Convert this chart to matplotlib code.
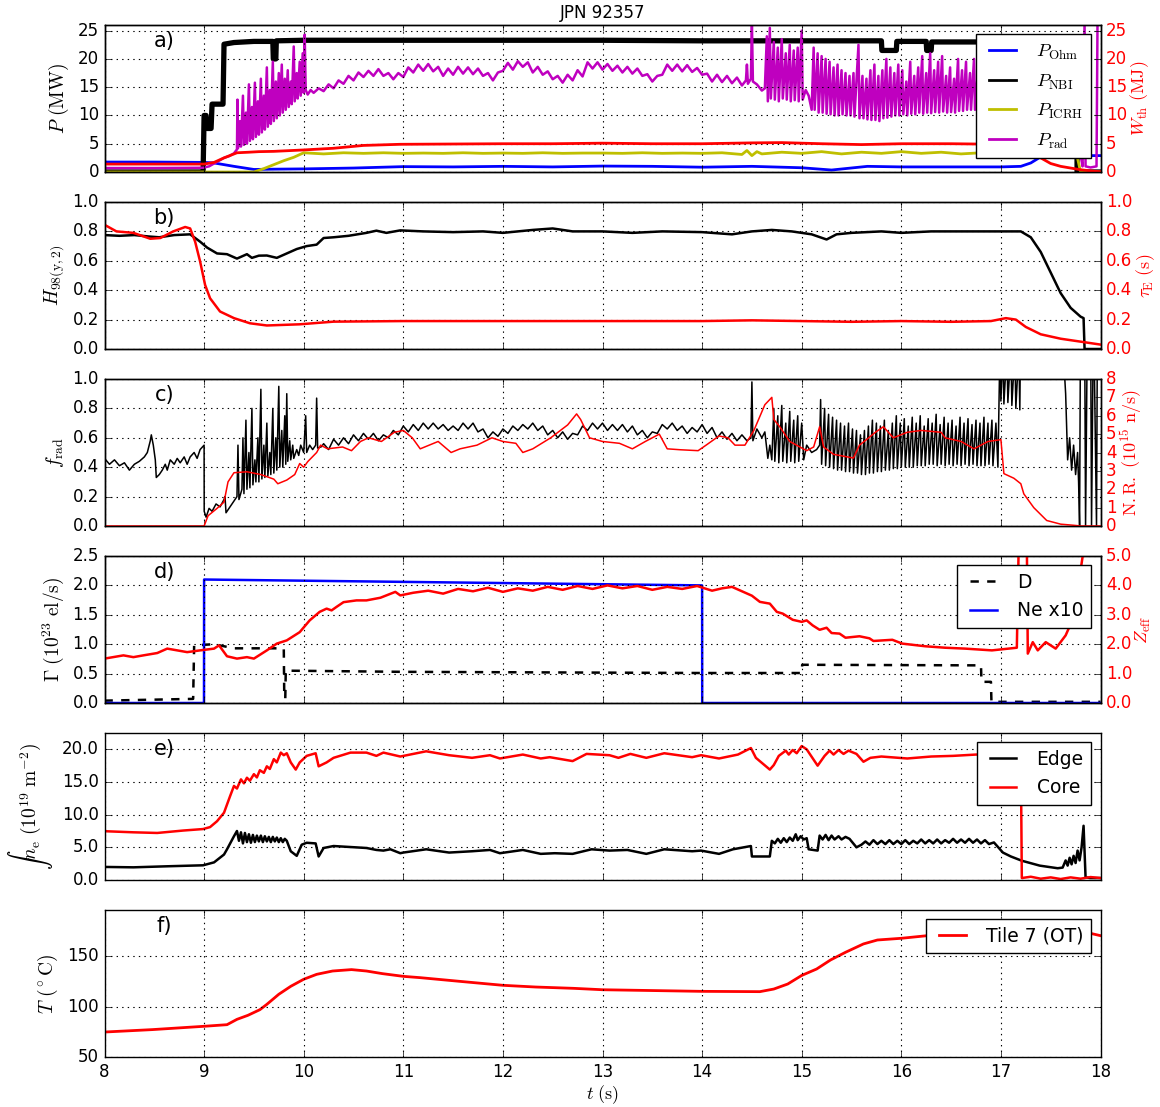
import numpy as np
import matplotlib
matplotlib.use('Agg')
import matplotlib.pyplot as plt
from matplotlib.lines import Line2D

# ---- a) powers (MW) and stored energy (MJ) ----
p_ohm = [(8.0, 1.76), (8.5, 1.76), (9.0, 1.7), (9.1, 1.6), (9.3, 1.0), (9.5, 0.45),
         (9.7, 0.5), (10.0, 0.55), (10.5, 0.7), (11.0, 0.95), (11.5, 0.9), (12.0, 1.0),
         (12.5, 0.9), (13.0, 1.05), (13.5, 1.0), (14.0, 0.85), (14.5, 1.0), (15.0, 0.75),
         (15.3, 0.35), (15.66, 1.0), (16.0, 0.9), (16.5, 0.9), (17.0, 0.9), (17.2, 1.0),
         (17.3, 1.6), (17.42, 2.9), (18.0, 2.9)]

p_nbi = [(8.0, 0), (8.99, 0), (9.0, 10), (9.02, 10), (9.03, 7.7), (9.07, 7.7), (9.08, 12),
         (9.19, 12), (9.2, 22.6), (9.3, 22.9), (9.5, 23.1), (9.69, 23.1), (9.695, 20),
         (9.72, 20), (9.725, 23.2), (10.0, 23.3), (11.0, 23.3), (12.0, 23.3), (13.0, 23.3),
         (14.0, 23.2), (15.0, 23.2), (15.8, 23.2), (15.805, 21.5), (15.95, 21.5),
         (15.955, 23.1), (16.25, 23.1), (16.255, 21.5), (16.3, 21.5), (16.305, 23.0),
         (17.0, 23.0), (17.76, 23.0), (17.765, 0), (18.0, 0)]

p_icrh = [(8.0, 0), (9.5, 0), (9.6, 0.6), (9.7, 1.3), (9.8, 2.0), (9.9, 2.6), (10.0, 3.4),
          (10.2, 3.2), (10.4, 3.4), (10.6, 3.3), (10.8, 3.4), (11.0, 3.3), (11.2, 3.35),
          (11.4, 3.3), (11.6, 3.4), (11.8, 3.3), (12.0, 3.35), (12.2, 3.3), (12.4, 3.4),
          (12.6, 3.3), (12.8, 3.35), (13.0, 3.35), (13.2, 3.3), (13.4, 3.4), (13.6, 3.3),
          (13.8, 3.35), (14.0, 3.3), (14.2, 3.4), (14.4, 3.1), (14.45, 3.8), (14.5, 2.9),
          (14.55, 3.6), (14.6, 3.2), (14.8, 3.5), (15.0, 3.3), (15.2, 3.6), (15.4, 3.2),
          (15.6, 3.5), (15.8, 3.3), (16.0, 3.6), (16.2, 3.3), (16.4, 3.5), (16.6, 3.2),
          (16.8, 3.4), (17.0, 3.3), (17.2, 3.2), (17.4, 3.3), (17.6, 3.1), (17.76, 3.2),
          (17.8, 0), (18.0, 0)]

p_rad = [(8.0, 0.7), (8.5, 0.7), (8.99, 0.75), (9.05, 1.0), (9.1, 1.5), (9.15, 2.0),
         (9.2, 2.5), (9.25, 2.8), (9.3, 3.3),
         (9.33, 4.0), (9.335, 12.8), (9.34, 4.2), (9.36, 9.0), (9.37, 4.5), (9.39, 13.5),
         (9.40, 4.8), (9.42, 10.5), (9.43, 5.0), (9.45, 15.5), (9.46, 5.5), (9.48, 11.5),
         (9.49, 5.8), (9.51, 15.8), (9.52, 6.2), (9.54, 12.5), (9.55, 6.6), (9.57, 16.5),
         (9.58, 7.0), (9.60, 13.5), (9.61, 7.5), (9.63, 18.5), (9.64, 8.0), (9.66, 14.5),
         (9.67, 8.5), (9.69, 19.5), (9.70, 9.0), (9.72, 16.0), (9.73, 9.5), (9.75, 17.5),
         (9.76, 10.0), (9.78, 19.0), (9.79, 10.5), (9.81, 16.5), (9.82, 11.0), (9.84, 18.0),
         (9.85, 11.5), (9.87, 16.0), (9.88, 12.0), (9.90, 22.2), (9.91, 12.5), (9.93, 17.5),
         (9.94, 13.0), (9.96, 19.5), (9.97, 13.5), (9.99, 21.0), (10.0, 14.0), (10.01, 24.3),
         (10.02, 14.5), (10.04, 13.7), (10.07, 14.5), (10.1, 14.0),
         (10.15, 14.8), (10.2, 14.3), (10.25, 15.5), (10.3, 14.8), (10.35, 16.2), (10.4, 15.6),
         (10.45, 17.0), (10.5, 16.2), (10.55, 17.6), (10.6, 16.8), (10.65, 17.9), (10.7, 17.0),
         (10.75, 18.2), (10.8, 17.0), (10.85, 17.5), (10.9, 16.4), (10.95, 17.5), (11.0, 16.8),
         (11.05, 18.5), (11.1, 17.6), (11.15, 19.0), (11.2, 17.9), (11.25, 19.1), (11.3, 17.8),
         (11.35, 18.6), (11.4, 17.0), (11.45, 18.3), (11.5, 17.2), (11.55, 18.6), (11.6, 17.4),
         (11.65, 18.5), (11.7, 17.3), (11.75, 18.3), (11.8, 17.0), (11.85, 17.5), (11.9, 16.2),
         (11.95, 17.6), (12.0, 17.9), (12.05, 19.3), (12.1, 18.1), (12.15, 19.6), (12.2, 18.6),
         (12.25, 19.4), (12.3, 17.6), (12.35, 18.6), (12.4, 17.2), (12.45, 17.8), (12.5, 16.4),
         (12.55, 17.0), (12.6, 15.8), (12.65, 17.2), (12.7, 16.2), (12.75, 18.0), (12.8, 16.9),
         (12.85, 19.4), (12.9, 18.3), (12.95, 19.4), (13.0, 18.1), (13.05, 19.1), (13.1, 17.9),
         (13.15, 18.8), (13.2, 17.6), (13.25, 18.6), (13.3, 17.4), (13.35, 18.3), (13.4, 17.0),
         (13.45, 17.3), (13.5, 16.0), (13.55, 17.0), (13.6, 17.2), (13.65, 19.0), (13.7, 17.9),
         (13.75, 19.0), (13.8, 17.8), (13.85, 18.9), (13.9, 17.7), (13.95, 18.4), (14.0, 17.2),
         (14.05, 17.4), (14.1, 16.0), (14.15, 17.2), (14.2, 15.9), (14.25, 17.0), (14.3, 15.7),
         (14.35, 16.7), (14.4, 15.3), (14.44, 16.2),
         (14.45, 19.0), (14.46, 15.6), (14.49, 16.5), (14.5, 26.5), (14.51, 16.0), (14.55, 15.5),
         (14.6, 14.4), (14.63, 14.8), (14.65, 24.0), (14.66, 12.5), (14.68, 25.5), (14.69, 13.0),
         (14.72, 23.0), (14.73, 12.8), (14.76, 22.0), (14.77, 12.5), (14.80, 23.5), (14.81, 13.0),
         (14.84, 21.0), (14.85, 12.8), (14.88, 22.5), (14.89, 12.5), (14.92, 21.5), (14.93, 12.7),
         (14.96, 22.0), (14.97, 12.5), (15.0, 25.0), (15.01, 12.8), (15.04, 14.5), (15.07, 13.5),
         (15.1, 11.0), (15.12, 22.0), (15.13, 11.0), (15.16, 21.0), (15.17, 10.5), (15.20, 20.5),
         (15.21, 10.5), (15.24, 20.0), (15.25, 10.3), (15.28, 19.5), (15.29, 10.2), (15.32, 18.5),
         (15.33, 10.0), (15.36, 19.0), (15.37, 10.0), (15.40, 18.0), (15.41, 10.2), (15.44, 17.5),
         (15.45, 10.0), (15.48, 17.0), (15.49, 10.0), (15.52, 17.5), (15.53, 9.8), (15.57, 22.5),
         (15.58, 9.5), (15.61, 17.0), (15.62, 9.5), (15.65, 16.5), (15.66, 9.3), (15.69, 18.0),
         (15.70, 9.2), (15.73, 19.0), (15.74, 9.2), (15.77, 17.0), (15.78, 9.0), (15.81, 18.0),
         (15.82, 9.5), (15.85, 20.0), (15.86, 9.6), (15.89, 18.5), (15.90, 9.8), (15.93, 17.5),
         (15.94, 10.0), (15.97, 19.0), (15.98, 10.0), (16.01, 18.0), (16.02, 10.2), (16.05, 16.0),
         (16.06, 10.0), (16.09, 19.5), (16.10, 10.3), (16.13, 17.0), (16.14, 10.2), (16.17, 18.5),
         (16.18, 10.5), (16.21, 20.5), (16.22, 10.3), (16.25, 17.5), (16.26, 10.5), (16.29, 21.0),
         (16.30, 10.4), (16.33, 18.0), (16.34, 10.6), (16.37, 19.5), (16.38, 10.5), (16.41, 20.5),
         (16.42, 10.7), (16.45, 17.0), (16.46, 10.5), (16.49, 18.5), (16.50, 10.6), (16.53, 16.5),
         (16.54, 10.5), (16.57, 20.0), (16.58, 10.8), (16.61, 18.0), (16.62, 10.8), (16.65, 19.5),
         (16.66, 11.0), (16.69, 17.5), (16.70, 11.0), (16.73, 20.0), (16.74, 11.0), (16.77, 18.0),
         (16.78, 11.2), (16.82, 19.0), (16.83, 11.0), (16.87, 17.5), (16.88, 11.2), (16.92, 19.5),
         (16.93, 11.0), (16.97, 18.0), (16.98, 11.5), (17.02, 19.0), (17.03, 11.2), (17.07, 17.5),
         (17.08, 11.5), (17.12, 19.0), (17.13, 11.5), (17.2, 12.0), (17.3, 12.5), (17.5, 12.0),
         (17.7, 11.5), (17.78, 10.0), (17.8, 3.0), (17.82, 1.0), (17.84, 26.5), (17.85, 1.0),
         (17.9, 0.8), (17.96, 1.0), (17.97, 26.5), (18.0, 26.5)]

w_th = [(8.0, 1.4), (9.0, 1.4), (9.1, 1.7), (9.2, 2.5), (9.33, 3.4), (9.45, 3.5), (9.55, 3.6),
        (9.7, 3.65), (10.0, 3.9), (10.3, 4.2), (10.6, 4.7), (10.97, 4.9), (11.5, 4.95),
        (12.0, 5.0), (12.5, 5.0), (13.0, 5.1), (13.5, 5.0), (14.0, 5.0), (14.5, 5.15),
        (14.8, 5.2), (15.2, 5.0), (15.6, 4.85), (16.0, 5.0), (16.5, 5.0), (17.0, 4.9),
        (17.2, 4.8), (17.3, 4.0), (17.4, 2.5), (17.5, 1.5), (17.6, 1.0), (17.7, 0.7),
        (17.8, 0.4), (17.9, 0.2), (18.0, 0.05)]

# ---- b) confinement ----
h98 = [(8.0, 0.775), (8.15, 0.77), (8.3, 0.775), (8.45, 0.765), (8.55, 0.76), (8.7, 0.775),
       (8.86, 0.78), (8.96, 0.73), (9.03, 0.69), (9.13, 0.65), (9.23, 0.645), (9.33, 0.615),
       (9.43, 0.645), (9.48, 0.62), (9.55, 0.635), (9.63, 0.636), (9.73, 0.62), (9.83, 0.65),
       (9.93, 0.68), (10.03, 0.70), (10.13, 0.71), (10.2, 0.755), (10.3, 0.76), (10.45, 0.77),
       (10.63, 0.79), (10.73, 0.805), (10.83, 0.79), (10.97, 0.807), (11.2, 0.80), (11.5, 0.795),
       (11.8, 0.80), (12.0, 0.79), (12.3, 0.81), (12.5, 0.82), (12.7, 0.80), (13.0, 0.80),
       (13.3, 0.79), (13.6, 0.80), (14.0, 0.795), (14.3, 0.78), (14.5, 0.80), (14.7, 0.81),
       (14.9, 0.80), (15.1, 0.78), (15.25, 0.745), (15.35, 0.78), (15.5, 0.79), (15.8, 0.80),
       (16.0, 0.79), (16.3, 0.80), (16.6, 0.80), (17.0, 0.80), (17.2, 0.80), (17.3, 0.76),
       (17.4, 0.66), (17.5, 0.52), (17.6, 0.38), (17.7, 0.28), (17.8, 0.22), (17.83, 0.21),
       (17.84, 0.0), (18.0, 0.0)]

tau_e = [(8.0, 0.845), (8.12, 0.80), (8.29, 0.79), (8.46, 0.75), (8.56, 0.755), (8.69, 0.80),
         (8.81, 0.83), (8.86, 0.82), (8.91, 0.73), (8.96, 0.595), (9.01, 0.436), (9.06, 0.345),
         (9.16, 0.255), (9.3, 0.21), (9.46, 0.175), (9.63, 0.16), (9.96, 0.168), (10.3, 0.186),
         (11.0, 0.19), (12.0, 0.19), (13.0, 0.19), (14.0, 0.19), (14.5, 0.195), (15.0, 0.19),
         (15.5, 0.185), (16.0, 0.19), (16.5, 0.185), (16.9, 0.19), (17.05, 0.21), (17.15, 0.2),
         (17.25, 0.15), (17.4, 0.1), (17.6, 0.07), (17.8, 0.05), (18.0, 0.03)]

# ---- c) radiated fraction and neutron rate ----
f_rad = [(8.0, 0.46), (8.05, 0.42), (8.1, 0.45), (8.15, 0.41), (8.2, 0.43), (8.25, 0.38),
         (8.3, 0.42), (8.35, 0.44), (8.4, 0.47), (8.43, 0.5), (8.46, 0.58), (8.47, 0.62),
         (8.49, 0.55), (8.51, 0.45), (8.52, 0.33), (8.55, 0.35), (8.58, 0.38), (8.61, 0.42),
         (8.63, 0.38), (8.66, 0.45), (8.7, 0.42), (8.73, 0.46), (8.76, 0.43), (8.8, 0.47),
         (8.83, 0.42), (8.86, 0.47), (8.9, 0.5), (8.93, 0.46), (8.96, 0.52), (9.0, 0.55),
         (9.001, 0.1), (9.02, 0.06), (9.05, 0.12), (9.08, 0.1), (9.12, 0.15), (9.16, 0.13),
         (9.2, 0.18), (9.21, 0.2), (9.22, 0.09), (9.25, 0.12), (9.28, 0.15), (9.31, 0.18),
         (9.33, 0.2), (9.34, 0.55), (9.35, 0.18), (9.38, 0.25), (9.39, 0.6), (9.4, 0.22),
         (9.42, 0.72), (9.43, 0.25), (9.45, 0.5), (9.46, 0.26), (9.48, 0.8), (9.49, 0.28),
         (9.51, 0.45), (9.52, 0.3), (9.54, 0.6), (9.55, 0.3), (9.57, 0.93), (9.58, 0.32),
         (9.6, 0.55), (9.61, 0.33), (9.63, 0.7), (9.64, 0.34), (9.66, 0.5), (9.67, 0.35),
         (9.69, 0.8), (9.7, 0.36), (9.72, 0.6), (9.73, 0.38), (9.75, 0.95), (9.76, 0.4),
         (9.78, 0.65), (9.79, 0.4), (9.81, 0.75), (9.82, 0.42), (9.83, 0.9), (9.84, 0.44),
         (9.86, 0.58), (9.87, 0.45), (9.89, 0.55), (9.9, 0.46), (9.93, 0.52), (9.95, 0.48),
         (9.97, 0.55), (10.0, 0.5), (10.02, 0.75), (10.03, 0.5), (10.06, 0.55), (10.09, 0.52),
         (10.12, 0.55), (10.13, 0.87), (10.14, 0.53), (10.18, 0.54),
         (10.2, 0.56), (10.25, 0.52), (10.3, 0.59), (10.35, 0.55), (10.4, 0.6), (10.45, 0.56),
         (10.5, 0.62), (10.55, 0.58), (10.6, 0.63), (10.65, 0.59), (10.7, 0.63), (10.75, 0.58),
         (10.8, 0.62), (10.85, 0.6), (10.9, 0.65), (10.95, 0.62), (11.0, 0.68), (11.05, 0.64),
         (11.1, 0.69), (11.15, 0.65), (11.2, 0.7), (11.25, 0.66), (11.3, 0.7), (11.35, 0.66),
         (11.4, 0.69), (11.45, 0.65), (11.5, 0.68), (11.55, 0.65), (11.6, 0.7), (11.65, 0.66),
         (11.7, 0.7), (11.75, 0.64), (11.8, 0.66), (11.85, 0.6), (11.9, 0.64), (11.95, 0.61),
         (12.0, 0.66), (12.05, 0.63), (12.1, 0.68), (12.15, 0.65), (12.2, 0.69), (12.25, 0.66),
         (12.3, 0.7), (12.35, 0.65), (12.4, 0.68), (12.45, 0.62), (12.5, 0.65), (12.55, 0.6),
         (12.6, 0.64), (12.65, 0.59), (12.7, 0.63), (12.75, 0.62), (12.8, 0.68), (12.85, 0.65),
         (12.9, 0.7), (12.95, 0.66), (13.0, 0.7), (13.05, 0.65), (13.1, 0.69), (13.15, 0.65),
         (13.2, 0.69), (13.25, 0.64), (13.3, 0.68), (13.35, 0.62), (13.4, 0.65), (13.45, 0.6),
         (13.5, 0.64), (13.55, 0.63), (13.6, 0.69), (13.65, 0.66), (13.7, 0.7), (13.75, 0.65),
         (13.8, 0.68), (13.85, 0.63), (13.9, 0.67), (13.95, 0.64), (14.0, 0.69), (14.05, 0.63),
         (14.1, 0.67), (14.15, 0.6), (14.2, 0.64), (14.25, 0.59), (14.3, 0.63), (14.35, 0.58),
         (14.4, 0.62), (14.45, 0.58), (14.49, 0.6), (14.5, 0.98), (14.51, 0.58), (14.55, 0.66),
         (14.6, 0.6), (14.63, 0.64), (14.66, 0.46), (14.68, 0.55),
         (14.7, 0.45), (14.72, 0.8), (14.73, 0.44), (14.76, 0.75), (14.77, 0.43), (14.8, 0.82),
         (14.81, 0.44), (14.84, 0.7), (14.85, 0.43), (14.88, 0.78), (14.89, 0.44), (14.92, 0.72),
         (14.93, 0.43), (14.96, 0.75), (14.97, 0.44), (15.0, 0.7), (15.02, 0.45), (15.05, 0.55),
         (15.1, 0.5), (15.15, 0.52), (15.18, 0.55), (15.19, 0.86), (15.2, 0.42), (15.23, 0.8),
         (15.24, 0.41), (15.27, 0.76), (15.28, 0.4), (15.31, 0.74), (15.32, 0.39), (15.35, 0.72),
         (15.36, 0.38), (15.39, 0.7), (15.4, 0.38), (15.43, 0.68), (15.44, 0.37), (15.47, 0.7),
         (15.48, 0.37), (15.51, 0.66), (15.52, 0.36), (15.55, 0.65), (15.56, 0.36), (15.59, 0.62),
         (15.6, 0.35), (15.63, 0.65), (15.64, 0.35), (15.67, 0.68), (15.68, 0.36), (15.71, 0.72),
         (15.72, 0.36), (15.75, 0.7), (15.76, 0.37), (15.79, 0.68), (15.8, 0.37), (15.83, 0.72),
         (15.84, 0.38), (15.87, 0.65), (15.88, 0.38), (15.91, 0.7), (15.92, 0.39), (15.95, 0.75),
         (15.96, 0.39), (15.99, 0.7), (16.0, 0.4), (16.03, 0.73), (16.04, 0.4), (16.07, 0.68),
         (16.08, 0.4), (16.11, 0.74), (16.12, 0.4), (16.15, 0.7), (16.16, 0.41), (16.19, 0.75),
         (16.2, 0.41), (16.23, 0.68), (16.24, 0.41), (16.27, 0.73), (16.28, 0.42), (16.31, 0.7),
         (16.32, 0.42), (16.35, 0.76), (16.36, 0.41), (16.39, 0.69), (16.4, 0.42), (16.43, 0.74),
         (16.44, 0.41), (16.47, 0.7), (16.48, 0.42), (16.51, 0.72), (16.52, 0.41), (16.55, 0.68),
         (16.56, 0.42), (16.59, 0.74), (16.6, 0.41), (16.63, 0.7), (16.64, 0.42), (16.67, 0.73),
         (16.68, 0.41), (16.71, 0.69), (16.72, 0.42), (16.75, 0.72), (16.76, 0.41), (16.79, 0.7),
         (16.8, 0.41), (16.83, 0.74), (16.84, 0.41), (16.87, 0.7), (16.88, 0.42), (16.91, 0.72),
         (16.92, 0.41), (16.95, 0.7), (16.97, 0.4), (16.99, 1.2), (17.0, 0.85), (17.02, 1.2),
         (17.03, 0.83), (17.06, 1.2), (17.07, 0.84), (17.1, 1.2), (17.11, 0.82), (17.14, 1.2),
         (17.15, 0.8), (17.18, 1.2), (17.19, 0.79), (17.2, 1.5), (17.6, 1.5), (17.65, 0.9),
         (17.67, 0.45), (17.69, 0.6), (17.71, 0.38), (17.73, 0.55), (17.75, 0.35), (17.77, 0.5),
         (17.78, 0.3), (17.79, 0.0), (17.8, 1.5), (17.84, 1.5), (17.85, 0.0), (17.87, 1.5),
         (17.9, 1.5), (17.91, 0.0), (17.93, 1.5), (17.96, 0.0), (17.97, 1.5), (18.0, 1.5)]

neutron_rate = [(8.0, 0), (9.0, 0), (9.04, 0.56), (9.13, 0.96), (9.2, 1.3), (9.24, 2.4),
                (9.3, 2.9), (9.43, 2.95), (9.57, 2.8), (9.7, 2.55), (9.74, 2.3), (9.83, 2.5),
                (9.91, 2.8), (9.96, 3.4), (10.0, 3.2), (10.04, 3.5), (10.13, 4.0), (10.17, 4.4),
                (10.24, 4.2), (10.39, 4.3), (10.48, 4.1), (10.57, 4.6), (10.65, 4.8), (10.78, 4.6),
                (10.91, 5.1), (11.0, 5.2), (11.09, 4.8), (11.17, 4.2), (11.26, 4.4), (11.35, 4.6),
                (11.48, 4.0), (11.57, 4.2), (11.74, 4.4), (11.89, 4.8), (12.0, 4.6), (12.13, 4.5),
                (12.2, 4.0), (12.3, 4.2), (12.48, 4.8), (12.65, 5.5), (12.74, 6.1), (12.78, 5.8),
                (12.87, 4.8), (13.0, 4.6), (13.17, 4.5), (13.3, 4.2), (13.43, 4.6), (13.57, 5.0),
                (13.65, 4.2), (13.78, 4.15), (13.96, 4.1), (14.04, 4.4), (14.17, 4.9), (14.26, 4.8),
                (14.33, 4.4), (14.43, 4.4), (14.52, 5.2), (14.63, 6.6), (14.7, 7.0), (14.72, 5.8),
                (14.78, 5.4), (14.88, 4.6), (15.05, 4.1), (15.12, 4.3), (15.18, 5.4), (15.22, 4.3),
                (15.32, 3.9), (15.52, 3.7), (15.58, 4.4), (15.65, 4.7), (15.74, 5.1), (15.82, 5.4),
                (15.92, 4.8), (16.06, 5.1), (16.2, 5.2), (16.4, 5.1), (16.44, 4.8), (16.6, 4.6),
                (16.73, 4.2), (16.87, 4.6), (17.0, 4.7), (17.03, 2.85), (17.13, 2.6), (17.2, 2.3),
                (17.23, 1.75), (17.33, 1.0), (17.46, 0.3), (17.6, 0.1), (17.73, 0.04), (17.8, 0.0),
                (18.0, 0.0)]

# ---- d) gas fuelling (1e23 el/s) and Zeff ----
gas_d = [(8.0, 0.04), (8.89, 0.07), (8.9, 0.98), (9.1, 1.0), (9.3, 0.93), (9.8, 0.93),
         (9.805, 0.08), (9.815, 0.08), (9.82, 0.55), (11.0, 0.53), (14.0, 0.51), (15.0, 0.51),
         (15.005, 0.65), (16.8, 0.64), (16.805, 0.36), (16.9, 0.36), (16.905, 0.02), (18.0, 0.02)]

gas_ne = [(8.0, 0.0), (8.999, 0.0), (9.0, 2.1), (14.0, 2.0), (14.001, 0.0), (18.0, 0.0)]

z_eff = [(8.0, 1.51), (8.19, 1.62), (8.29, 1.56), (8.39, 1.62), (8.53, 1.70), (8.63, 1.85),
         (8.73, 1.79), (8.83, 1.73), (8.96, 1.79), (9.1, 1.85), (9.15, 1.96), (9.23, 1.59),
         (9.33, 1.51), (9.43, 1.56), (9.5, 1.51), (9.63, 1.79), (9.73, 2.02), (9.83, 2.13),
         (9.96, 2.41), (10.06, 2.81), (10.16, 3.10), (10.23, 3.21), (10.28, 3.15), (10.33, 3.27),
         (10.4, 3.43), (10.53, 3.49), (10.63, 3.49), (10.77, 3.58), (10.92, 3.78), (10.97, 3.66),
         (11.1, 3.75), (11.25, 3.82), (11.4, 3.72), (11.55, 3.88), (11.7, 3.80), (11.85, 3.92),
         (12.0, 3.78), (12.15, 3.90), (12.3, 3.82), (12.45, 3.95), (12.6, 3.85), (12.75, 3.98),
         (12.9, 3.88), (13.05, 4.0), (13.2, 3.90), (13.35, 3.98), (13.5, 3.85), (13.65, 3.95),
         (13.8, 3.88), (13.95, 3.98), (14.1, 3.82), (14.2, 3.9), (14.3, 3.95), (14.4, 3.8),
         (14.5, 3.65), (14.58, 3.44), (14.68, 3.38), (14.75, 3.1), (14.81, 3.04), (14.91, 2.83),
         (15.0, 2.76), (15.05, 2.81), (15.11, 2.64), (15.18, 2.49), (15.25, 2.56), (15.3, 2.38),
         (15.38, 2.36), (15.44, 2.22), (15.58, 2.27), (15.68, 2.2), (15.72, 2.11), (15.91, 2.15),
         (16.01, 2.02), (16.24, 1.93), (16.44, 1.88), (16.64, 1.85), (16.91, 1.79), (17.16, 1.88),
         (17.18, 5.6), (17.19, 5.6), (17.26, 5.6), (17.27, 1.68), (17.32, 2.07), (17.37, 1.79),
         (17.45, 2.07), (17.55, 1.85), (17.65, 2.3), (17.68, 2.53), (17.77, 3.83), (17.82, 4.97),
         (17.85, 5.6), (18.0, 5.6)]

# ---- e) line integrated density (1e19 m^-2) ----
ne_core = [(8.0, 7.47), (8.29, 7.3), (8.53, 7.2), (8.79, 7.57), (8.99, 7.8), (9.06, 8.1),
           (9.13, 9.0), (9.2, 10.3), (9.26, 12.8), (9.3, 14.4), (9.33, 14.0), (9.37, 15.4),
           (9.4, 14.8), (9.43, 15.65), (9.46, 15.2), (9.5, 16.2), (9.53, 15.7), (9.56, 16.8),
           (9.6, 16.4), (9.63, 17.4), (9.66, 17.0), (9.7, 18.5), (9.73, 18.0), (9.77, 19.5),
           (9.8, 19.1), (9.83, 19.4), (9.87, 18.0), (9.92, 16.9), (9.96, 18.0), (10.03, 19.0),
           (10.12, 19.4), (10.15, 17.4), (10.23, 18.0), (10.3, 18.7), (10.47, 19.5), (10.63, 19.5),
           (10.73, 19.0), (10.8, 19.5), (10.97, 18.9), (11.23, 19.7), (11.46, 19.1), (11.69, 18.7),
           (11.87, 19.1), (11.97, 18.6), (12.2, 19.2), (12.38, 18.6), (12.47, 18.8), (12.7, 18.2),
           (12.84, 19.3), (13.07, 19.1), (13.16, 18.7), (13.28, 19.3), (13.44, 18.7), (13.62, 19.4),
           (13.9, 18.8), (13.99, 19.1), (14.17, 18.6), (14.36, 19.2), (14.49, 20.2), (14.54, 18.7),
           (14.68, 16.9), (14.72, 17.6), (14.77, 19.0), (14.84, 19.8), (14.87, 19.2), (14.91, 19.9),
           (14.95, 19.4), (15.0, 20.5), (15.05, 20.0), (15.16, 17.5), (15.23, 19.0), (15.28, 19.8),
           (15.32, 19.2), (15.37, 19.9), (15.42, 19.3), (15.47, 19.8), (15.55, 19.3), (15.62, 18.1),
           (15.69, 18.7), (15.8, 18.9), (16.06, 18.6), (16.3, 18.9), (16.52, 19.0), (16.75, 19.2),
           (17.0, 19.2), (17.2, 19.0), (17.21, 0.3), (17.3, 0.5), (17.4, 0.2), (17.5, 0.4),
           (17.6, 0.15), (17.7, 0.4), (17.8, 0.2), (17.9, 0.45), (18.0, 0.3)]

ne_edge = [(8.0, 2.0), (8.29, 1.94), (8.63, 2.1), (8.99, 2.25), (9.1, 2.7), (9.2, 3.9),
           (9.23, 4.7), (9.3, 6.7), (9.33, 7.5), (9.35, 6.0), (9.37, 7.3), (9.39, 5.6),
           (9.41, 7.2), (9.43, 5.8), (9.45, 7.0), (9.47, 5.7), (9.49, 6.9), (9.51, 5.8),
           (9.53, 6.8), (9.55, 5.9), (9.57, 6.8), (9.59, 5.8), (9.61, 6.7), (9.63, 5.9),
           (9.65, 6.6), (9.67, 5.8), (9.69, 6.6), (9.71, 5.9), (9.73, 6.5), (9.75, 5.8),
           (9.77, 6.4), (9.79, 5.8), (9.81, 6.3), (9.83, 6.0), (9.87, 4.4), (9.93, 3.7),
           (9.98, 5.4), (10.03, 5.7), (10.12, 5.6), (10.15, 3.6), (10.2, 4.9), (10.3, 5.2),
           (10.63, 4.9), (10.73, 4.6), (10.8, 4.5), (10.87, 4.7), (10.97, 4.1), (11.0, 4.2),
           (11.23, 4.7), (11.46, 4.2), (11.69, 4.4), (11.87, 4.6), (11.97, 4.1), (12.2, 4.6),
           (12.38, 4.0), (12.52, 4.1), (12.7, 4.0), (12.89, 4.7), (13.07, 4.5), (13.25, 4.6),
           (13.44, 4.0), (13.62, 4.7), (13.9, 4.4), (13.99, 4.5), (14.17, 4.0), (14.31, 4.7),
           (14.45, 5.1), (14.49, 5.2), (14.5, 3.6), (14.68, 3.6), (14.7, 6.0), (14.73, 5.6),
           (14.76, 6.3), (14.79, 5.7), (14.82, 6.4), (14.85, 5.8), (14.88, 6.5), (14.91, 6.0),
           (14.94, 7.0), (14.96, 6.1), (14.99, 6.7), (15.02, 6.2), (15.05, 6.4), (15.07, 4.7),
           (15.16, 4.5), (15.18, 6.8), (15.21, 6.2), (15.24, 6.9), (15.27, 6.1), (15.3, 6.8),
           (15.33, 6.2), (15.37, 6.7), (15.4, 6.2), (15.44, 6.6), (15.48, 6.3), (15.55, 5.0),
           (15.6, 5.4), (15.64, 5.9), (15.68, 5.4), (15.72, 6.1), (15.76, 5.5), (15.8, 6.0),
           (15.84, 5.5), (15.88, 6.1), (15.92, 5.5), (15.96, 6.0), (16.0, 5.5), (16.04, 6.1),
           (16.08, 5.5), (16.12, 6.0), (16.16, 5.6), (16.2, 6.2), (16.24, 5.6), (16.28, 6.1),
           (16.32, 5.6), (16.36, 6.2), (16.4, 5.6), (16.44, 6.1), (16.48, 5.7), (16.52, 6.3),
           (16.56, 5.7), (16.6, 6.2), (16.64, 5.7), (16.68, 6.3), (16.72, 5.7), (16.76, 6.2),
           (16.8, 5.6), (16.84, 6.1), (16.88, 5.5), (16.93, 5.75), (17.02, 4.2), (17.1, 3.6),
           (17.21, 2.95), (17.39, 2.2), (17.57, 1.8), (17.62, 1.9), (17.65, 3.0), (17.67, 2.2),
           (17.69, 3.4), (17.71, 2.4), (17.73, 3.7), (17.75, 2.6), (17.77, 4.5), (17.79, 3.0),
           (17.81, 5.0), (17.83, 8.3), (17.85, 0.4), (17.9, 0.3), (18.0, 0.3)]

# ---- f) divertor tile temperature ----
tile7 = [(8.0, 74.8), (8.48, 77.2), (9.0, 80.5), (9.23, 82.1), (9.33, 87.4), (9.44, 91.4),
         (9.56, 97.0), (9.63, 102.3), (9.75, 112.3), (9.87, 120.2), (10.0, 127.2), (10.13, 132.1),
         (10.29, 135.4), (10.48, 136.8), (10.63, 135.4), (10.79, 132.8), (11.0, 130.1),
         (11.17, 128.8), (11.56, 125.2), (12.0, 121.2), (12.33, 119.5), (12.71, 118.2),
         (13.0, 116.8), (13.5, 116.0), (14.0, 115.2), (14.58, 114.9), (14.72, 117.5),
         (14.86, 122.5), (15.0, 131.0), (15.15, 137.4), (15.29, 146.4), (15.44, 154.0),
         (15.62, 162.3), (15.76, 166.2), (16.0, 167.9), (16.26, 170.5), (16.6, 171.8),
         (17.0, 172.5), (17.5, 173.0), (17.9, 172.8), (18.0, 170.5)]

time_ticks = list(range(8, 19))


def xy(series):
    a = np.array(series, dtype=float)
    return a[:, 0], a[:, 1]


def make_axes(fig, top_px):
    # axes placed by pixel rows on a 1160x1107 canvas
    ax = fig.add_axes([104.5 / 1160, 1 - (top_px + 147) / 1107, 996 / 1160, 147 / 1107])
    ax.set_xlim(8, 18)
    ax.set_xticks(time_ticks)
    ax.grid(True, color='k', linestyle=':', linewidth=0.8)
    return ax


def right_axis(ax, lim, ticks, fmt, label):
    ax2 = ax.twinx()
    ax2.set_xlim(8, 18)
    ax2.set_ylim(*lim)
    ax2.set_yticks(ticks)
    ax2.set_yticklabels([fmt % t for t in ticks])
    ax2.tick_params(axis='y', labelcolor='r')
    ax2.set_ylabel(label, color='r', fontsize=13, labelpad=1)
    return ax2


def tag(ax, s):
    ax.text(0.06, 0.89, s, transform=ax.transAxes, fontsize=15, ha='center', va='center')


def main():
    plt.style.use('classic')
    plt.rcParams['font.family'] = ['DejaVu Sans']
    plt.rcParams['font.size'] = 11
    plt.rcParams['mathtext.fontset'] = 'cm'
    plt.rcParams['figure.facecolor'] = 'white'
    plt.rcParams['savefig.facecolor'] = 'white'
    plt.rcParams['xtick.labelsize'] = 12
    plt.rcParams['ytick.labelsize'] = 12
    plt.rcParams['legend.fontsize'] = 13.5

    fig = plt.figure(figsize=(11.6, 11.07), dpi=100)
    tops = [25, 202, 379, 556, 733, 910]
    axs = [make_axes(fig, t) for t in tops]
    for ax in axs[:-1]:
        ax.set_xticklabels([])

    # a)
    ax = axs[0]
    ax.plot(*xy(p_ohm), 'b', lw=2)
    ax.plot(*xy(p_nbi), 'k', lw=3.8)
    ax.plot(*xy(p_icrh), 'y', lw=2)
    ax.plot(*xy(p_rad), 'm', lw=1.8)
    ax.set_ylim(0, 26)
    ax.set_yticks([0, 5, 10, 15, 20, 25])
    ax.set_ylabel(r'$P\ (\mathrm{MW})$', fontsize=14)
    ax.set_title('JPN 92357', fontsize=12)
    tag(ax, 'a)')
    ax2 = right_axis(ax, (0, 26), [0, 5, 10, 15, 20, 25], '%d', r'$W_{\mathrm{th}}\ (\mathrm{MJ})$')
    ax2.plot(*xy(w_th), 'r', lw=2)
    handles = [Line2D([], [], color=c, lw=2) for c in ['b', 'k', 'y', 'm']]
    labels = [r'$P_{\mathrm{Ohm}}$', r'$P_{\mathrm{NBI}}$', r'$P_{\mathrm{ICRH}}$', r'$P_{\mathrm{rad}}$']
    ax2.legend(handles, labels, loc='upper right')

    # b)
    ax = axs[1]
    ax.plot(*xy(h98), 'k', lw=1.8)
    ax.set_ylim(0, 1)
    ax.set_yticks(np.arange(0, 1.01, 0.2))
    ax.set_yticklabels(['%.1f' % v for v in np.arange(0, 1.01, 0.2)])
    ax.set_ylabel(r'$H_{98(\mathrm{y},2)}$', fontsize=14)
    tag(ax, 'b)')
    ax2 = right_axis(ax, (0, 1), list(np.arange(0, 1.01, 0.2)), '%.1f', r'$\tau_{\mathrm{E}}\ (\mathrm{s})$')
    ax2.plot(*xy(tau_e), 'r', lw=1.8)

    # c)
    ax = axs[2]
    ax.plot(*xy(f_rad), 'k', lw=1.1)
    ax.set_ylim(0, 1)
    ax.set_yticks(np.arange(0, 1.01, 0.2))
    ax.set_yticklabels(['%.1f' % v for v in np.arange(0, 1.01, 0.2)])
    ax.set_ylabel(r'$f_{\mathrm{rad}}$', fontsize=14)
    tag(ax, 'c)')
    ax2 = right_axis(ax, (0, 8), list(range(0, 9)), '%d', r'$\mathrm{N.R.}\ (10^{15}\ \mathrm{n/s})$')
    ax2.plot(*xy(neutron_rate), 'r', lw=1.1)

    # d)
    ax = axs[3]
    ax.plot(*xy(gas_d), 'k--', lw=1.8)
    ax.plot(*xy(gas_ne), 'b', lw=1.8)
    ax.set_ylim(0, 2.5)
    ax.set_yticks(np.arange(0, 2.51, 0.5))
    ax.set_yticklabels(['%.1f' % v for v in np.arange(0, 2.51, 0.5)])
    ax.set_ylabel(r'$\Gamma\ (10^{23}\ \mathrm{el/s})$', fontsize=14)
    tag(ax, 'd)')
    ax2 = right_axis(ax, (0, 5), [0, 1, 2, 3, 4, 5], '%.1f', r'$Z_{\mathrm{eff}}$')
    ax2.plot(*xy(z_eff), 'r', lw=1.8)
    handles = [Line2D([], [], color='k', ls='--', lw=1.8), Line2D([], [], color='b', lw=1.8)]
    ax2.legend(handles, ['D', 'Ne x10'], loc='upper right')

    # e)
    ax = axs[4]
    ax.plot(*xy(ne_edge), 'k', lw=1.8, label='Edge')
    ax.plot(*xy(ne_core), 'r', lw=1.8, label='Core')
    ax.set_ylim(0, 22.5)
    ax.set_yticks([0, 5, 10, 15, 20])
    ax.set_yticklabels(['%.1f' % v for v in [0, 5, 10, 15, 20]])
    ax.set_ylabel(r'$\int n_{\mathrm{e}}\ (10^{19}\ \mathrm{m^{-2}})$', fontsize=14)
    ax.legend(loc='upper right')
    tag(ax, 'e)')

    # f)
    ax = axs[5]
    ax.plot(*xy(tile7), 'r', lw=2, label='Tile 7 (OT)')
    ax.set_ylim(50, 196)
    ax.set_yticks([50, 100, 150])
    ax.set_ylabel(r'$T\ (^\circ\mathrm{C})$', fontsize=14)
    ax.set_xlabel(r'$t\ (\mathrm{s})$', fontsize=13, labelpad=2)
    ax.legend(loc='upper right')
    tag(ax, 'f)')

    fig.savefig('out.png', dpi=100)


if __name__ == "__main__":
    main()
